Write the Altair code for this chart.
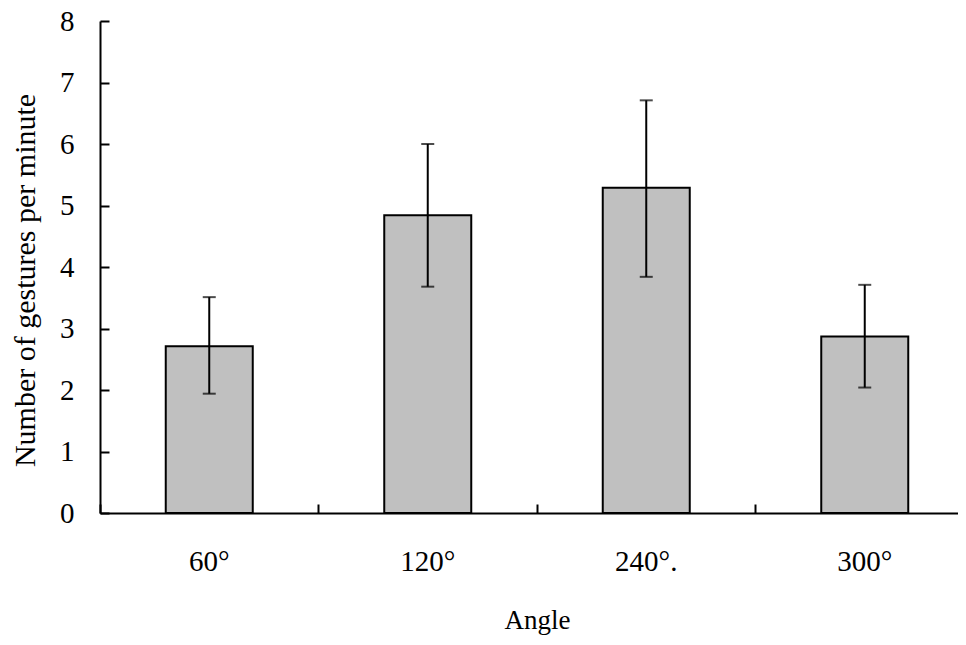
import altair as alt
import pandas as pd

# ---- data ----
angles = ["60°", "120°", "240°.", "300°"]
means = [2.71, 4.84, 5.29, 2.87]
upper = [3.51, 6.00, 6.71, 3.71]
lower = [1.94, 3.68, 3.84, 2.04]
y_ticks = [0, 1, 2, 3, 4, 5, 6, 7, 8]

df = pd.DataFrame({"angle": angles, "mean": means, "hi": upper, "lo": lower})

FONT = "Liberation Serif"
xscale = alt.Scale(domain=angles, range=[0, 874], paddingInner=0, paddingOuter=0)
yscale = alt.Scale(domain=[0, 8], nice=False)

# bars with label axes (domain lines, labels, titles)
bars = alt.Chart(df).mark_bar(size=87, color="#c0c0c0", stroke="black", strokeWidth=2).encode(
    x=alt.X("angle:N", scale=xscale, title="Angle",
            axis=alt.Axis(orient="bottom", domain=True, domainColor="black", domainWidth=2,
                          ticks=False, tickSize=0, labelAngle=0, labelFont=FONT, labelFontSize=29,
                          labelPadding=34, labelColor="black", titleFont=FONT, titleFontSize=27,
                          titleFontWeight="normal", titlePadding=31, titleColor="black", grid=False)),
    y=alt.Y("mean:Q", scale=yscale, title="Number of gestures per minute",
            axis=alt.Axis(orient="left", values=y_ticks, format="d", domain=True, domainColor="black",
                          domainWidth=2, ticks=False, tickSize=0, labelFont=FONT, labelFontSize=29,
                          labelPadding=26, labelColor="black", titleFont=FONT, titleFontSize=30,
                          titleFontWeight="normal", titlePadding=19, titleColor="black",
                          titleY=259, grid=False)),
)

# error bar stems, with inward tick axes
stems = alt.Chart(df).mark_rule(strokeWidth=2, color="black").encode(
    x=alt.X("angle:N", scale=xscale,
            axis=alt.Axis(orient="bottom", bandPosition=0, domain=False, labels=False, ticks=True,
                          tickSize=9, tickWidth=2, tickColor="black", offset=-9, grid=False, title="")),
    y=alt.Y("lo:Q", scale=yscale,
            axis=alt.Axis(orient="left", values=y_ticks, domain=False, labels=False, ticks=True,
                          tickSize=9, tickWidth=2, tickColor="black", offset=-9, grid=False, title="")),
    y2="hi:Q",
)

cap_hi = alt.Chart(df).mark_tick(size=13, thickness=2, color="black").encode(
    x=alt.X("angle:N", scale=xscale, axis=None),
    y=alt.Y("hi:Q", scale=yscale, axis=None),
)
cap_lo = alt.Chart(df).mark_tick(size=13, thickness=2, color="black").encode(
    x=alt.X("angle:N", scale=xscale, axis=None),
    y=alt.Y("lo:Q", scale=yscale, axis=None),
)

chart = alt.layer(bars, stems, cap_hi, cap_lo).resolve_axis(
    x="independent", y="independent"
).properties(
    width=858, height=492,
    padding={"left": 92, "top": 13, "right": 0, "bottom": 125},
    autosize=alt.AutoSizeParams(type="none"),
    background="white",
).configure_view(stroke=None)

chart.save("out.html", embed_options={"renderer": "svg", "actions": False})
